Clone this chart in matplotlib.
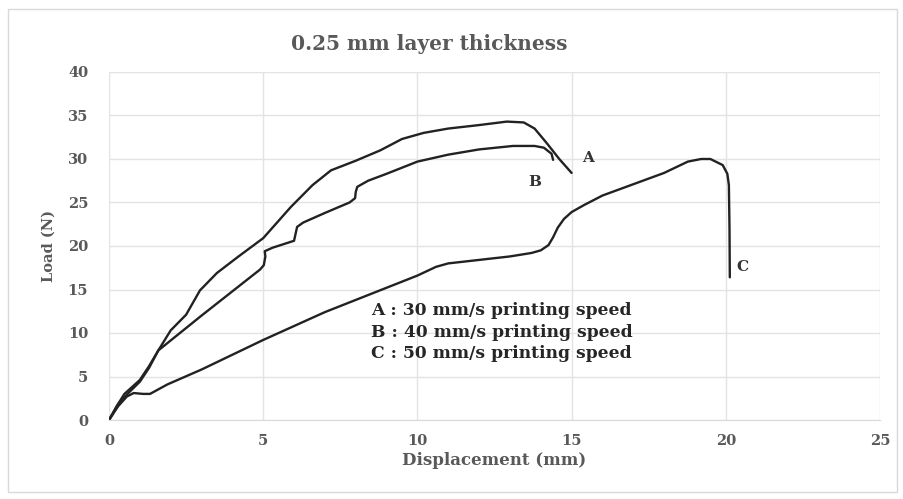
import matplotlib
matplotlib.use("Agg")
import matplotlib.pyplot as plt
from matplotlib.patches import Rectangle

# ---- data ----
a_x = [0, 0.25, 0.5, 1.0, 1.3, 1.6, 2.0, 2.5, 2.95, 3.5, 4.2, 5.0, 5.9, 6.6, 7.2,
       8.0, 8.8, 9.5, 10.2, 11.0, 12.0, 12.9, 13.45, 13.8, 14.2, 14.6, 15.0]
a_y = [0, 1.6, 3.0, 4.6, 6.2, 8.0, 10.3, 12.1, 14.9, 16.9, 18.8, 20.9, 24.5, 27.0, 28.7,
       29.8, 31.0, 32.3, 33.0, 33.5, 33.9, 34.3, 34.2, 33.5, 31.8, 30.0, 28.4]

b_x = [0, 0.3, 0.6, 1.0, 1.3, 1.6, 3.0, 4.9, 5.02, 5.07, 5.05, 5.3, 6.0, 6.05, 6.1, 6.3,
       7.0, 7.8, 7.98, 8.0, 8.05, 8.4, 9.0, 10.0, 11.0, 12.0, 13.1, 13.8, 14.1, 14.35, 14.4]
b_y = [0, 1.8, 3.0, 4.4, 6.0, 8.0, 12.0, 17.3, 17.8, 18.8, 19.4, 19.8, 20.6, 21.4, 22.2, 22.7,
       23.8, 25.0, 25.5, 26.2, 26.8, 27.5, 28.3, 29.7, 30.5, 31.1, 31.5, 31.5, 31.3, 30.6, 29.9]

c_x = [0, 0.3, 0.58, 0.8, 1.1, 1.33, 1.9, 3.0, 5.0, 7.0, 9.0, 10.0, 10.6, 11.0, 12.0, 13.0,
       13.7, 14.0, 14.25, 14.4, 14.55, 14.75, 15.0, 15.4, 16.0, 17.0, 18.0, 18.77, 19.2,
       19.5, 19.9, 20.05, 20.1, 20.12, 20.13]
c_y = [0, 1.6, 2.7, 3.1, 3.0, 3.0, 4.1, 5.8, 9.2, 12.4, 15.2, 16.6, 17.6, 18.0, 18.4, 18.8,
       19.2, 19.5, 20.1, 21.0, 22.1, 23.1, 23.9, 24.7, 25.8, 27.1, 28.4, 29.7, 30.0,
       30.0, 29.3, 28.3, 27.0, 22.0, 16.4]

x_ticks = [0, 5, 10, 15, 20, 25]
y_ticks = [0, 5, 10, 15, 20, 25, 30, 35, 40]

curve_labels = ["A", "B", "C"]
label_pos = [(15.55, 30.1), (13.8, 27.3), (20.55, 17.6)]
legend_lines = ["A : 30 mm/s printing speed",
                "B : 40 mm/s printing speed",
                "C : 50 mm/s printing speed"]

serif = ["DejaVu Serif"]
gray = "#595959"
line_c = "#222222"

fig = plt.figure(figsize=(9.04, 4.99), dpi=100)
fig.patches.append(Rectangle((8/904, 1 - 492/499), (897-8)/904, (492-9)/499,
                             transform=fig.transFigure, fill=False,
                             edgecolor="#d9d9d9", linewidth=1.0))
ax = fig.add_axes([109/904, 1 - 420/499, (880-109)/904, (420-72)/499])

for xs, ys in [(a_x, a_y), (b_x, b_y), (c_x, c_y)]:
    ax.plot(xs, ys, color=line_c, linewidth=1.7, solid_joinstyle="round",
            solid_capstyle="round")

ax.set_xlim(0, 25)
ax.set_ylim(0, 40)
ax.set_xticks(x_ticks)
ax.set_yticks(y_ticks)
ax.grid(True, color="#e3e3e3", linewidth=1.0)
ax.set_axisbelow(True)
for s in ["top", "right", "left"]:
    ax.spines[s].set_visible(False)
ax.spines["bottom"].set_color("#d9d9d9")
ax.tick_params(axis="x", length=0, pad=10, labelcolor=gray)
ax.tick_params(axis="y", length=0, pad=15, labelcolor=gray)
for lab in ax.get_xticklabels() + ax.get_yticklabels():
    lab.set_fontfamily(serif)
    lab.set_fontweight("bold")
    lab.set_fontsize(10.5)

ax.set_xlabel("Displacement (mm)", fontfamily=serif, fontweight="bold",
              fontsize=12, color=gray, labelpad=3)
ax.set_ylabel("Load (N)", fontfamily=serif, fontweight="bold",
              fontsize=10.5, color=gray, labelpad=9)
fig.text(429/904, 1 - 44/499, "0.25 mm layer thickness", fontfamily=serif,
         fontweight="bold", fontsize=14.5, color=gray, ha="center", va="center")

for lab, (lx, ly) in zip(curve_labels, label_pos):
    ax.text(lx, ly, lab, fontfamily=serif, fontweight="bold", fontsize=11,
            color="#333333", ha="center", va="center")

for i, t in enumerate(legend_lines):
    ax.text(8.5, 12.6 - 2.5 * i, t, fontfamily=serif, fontweight="bold",
            fontsize=12.3, color="#262626", ha="left", va="center")

fig.savefig("out.png", dpi=100)
